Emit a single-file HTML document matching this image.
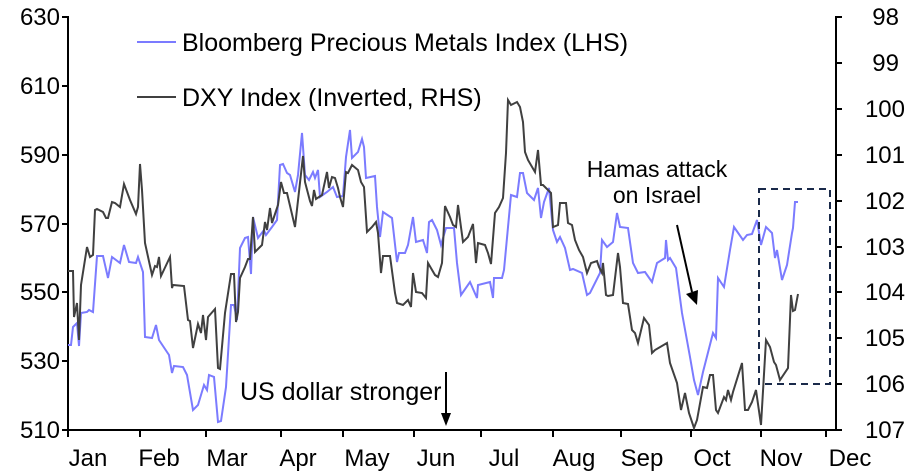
<!DOCTYPE html>
<html><head><style>
html,body{margin:0;padding:0;background:#fff;}
svg{display:block;font-family:"Liberation Sans",Arial,sans-serif;}
</style></head><body>
<svg width="912" height="473" viewBox="0 0 912 473" xmlns="http://www.w3.org/2000/svg">
<g stroke="#000" stroke-width="2" fill="none">
<line x1="68" y1="16" x2="68" y2="431"/>
<line x1="836" y1="16" x2="836" y2="431"/>
<line x1="67" y1="430" x2="837" y2="430"/>
<path d="M62 17H68M62 86H68M62 155H68M62 224H68M62 292H68M62 361H68M62 430H68"/>
<path d="M836 17H842M836 63H842M836 109H842M836 155H842M836 201H842M836 247H842M836 292H842M836 338H842M836 384H842M836 430H842"/>
<path d="M68 430V437M140 430V437M206 430V437M281 430V437M343 430V437M414 430V437M481 430V437M553 430V437M621 430V437M691 430V437M761 430V437M826 430V437"/>
</g>
<g font-size="24" fill="#000" text-anchor="end">
<text x="60" y="25">630</text><text x="60" y="94">610</text><text x="60" y="163">590</text><text x="60" y="232">570</text><text x="60" y="300">550</text><text x="60" y="369">530</text><text x="60" y="438">510</text>
</g>
<g font-size="24" fill="#000" text-anchor="end">
<text x="899" y="25">98</text><text x="899" y="71">99</text><text x="905" y="117">100</text><text x="905" y="163">101</text><text x="905" y="209">102</text><text x="905" y="255">103</text><text x="905" y="300">104</text><text x="905" y="346">105</text><text x="905" y="392">106</text><text x="905" y="438">107</text>
</g>
<g font-size="24" fill="#000" text-anchor="middle">
<text x="88" y="466">Jan</text><text x="159" y="466">Feb</text><text x="227" y="466">Mar</text><text x="298" y="466">Apr</text><text x="367" y="466">May</text><text x="436" y="466">Jun</text><text x="504" y="466">Jul</text><text x="574" y="466">Aug</text><text x="642" y="466">Sep</text><text x="712" y="466">Oct</text><text x="781" y="466">Nov</text><text x="850" y="466">Dec</text>
</g>
<polyline fill="none" stroke="#7b7bff" stroke-width="2" points="68,345 71,345 73,327 77,323 79,346 81,313 87,312 89,310 93,312 97,256 103,256 108,278 112,257 120,263 124,245 129,262 136,263 138,257 143,272 145,337 152,338 156,325 159,340 167,352 169,355 172,373 174,366 183,367 187,375 193,410 198,405 204,385 207,390 209,375 214,377 218,422 221,421 226,387 231,305 234,305 237,320 240,248 245,238 248,237 251,274 253,217 258,238 264,230 266,235 272,227 277,220 280,165 283,164 287,173 290,175 295,192 298,175 302,133 305,175 309,180 313,172 315,178 318,170 320,197 327,192 333,187 337,197 343,196 346,157 350,130 352,158 358,152 362,139 364,147 366,178 375,176 377,207 380,237 383,212 392,218 397,262 399,253 405,253 408,245 413,217 416,242 423,240 427,253 429,222 432,220 437,230 441,245 446,228 454,228 457,263 461,295 470,282 477,298 478,285 490,282 493,298 494,278 502,278 504,270 511,195 517,197 520,173 523,173 527,193 534,200 538,188 541,218 544,202 549,188 553,230 557,242 560,237 565,248 570,270 573,269 582,273 587,295 590,293 600,273 602,240 607,247 613,242 617,213 620,227 628,228 633,263 638,273 645,272 652,282 657,263 665,258 666,240 668,260 670,258 676,268 682,313 690,357 694,380 698,395 703,372 713,333 716,338 718,278 724,287 730,250 734,227 743,240 747,235 752,234 757,220 761,245 766,227 772,233 775,258 777,250 782,280 787,265 792,233 793,228 795,202 798,202"/>
<polyline fill="none" stroke="#404040" stroke-width="2" points="68,271 71,271 73,271 74,317 77,303 79,340 81,285 87,247 90,257 93,255 95,210 97,209 103,212 106,218 108,218 112,202 115,203 120,207 124,184 130,200 136,214 138,207 140,164 142,190 145,243 152,275 155,266 157,267 159,257 161,276 170,257 172,288 173,285 184,286 188,320 190,321 193,348 198,324 201,333 203,315 206,340 208,317 215,309 218,368 220,369 225,313 231,274 234,274 236,322 238,312 240,278 245,267 248,259 250,259 253,217 255,252 262,245 265,222 267,230 270,208 272,223 278,205 281,182 284,193 287,193 295,227 303,156 305,182 310,201 312,206 314,190 316,199 322,195 327,172 329,188 332,177 335,178 338,188 340,197 343,207 346,172 348,173 352,165 358,170 361,182 364,187 367,232 372,227 376,222 378,233 381,273 383,256 390,256 395,293 397,303 403,305 408,300 411,307 413,273 416,292 422,293 426,298 428,263 435,275 438,277 442,263 445,206 450,217 453,225 456,227 458,205 463,242 468,237 473,224 476,263 478,243 485,245 488,253 491,264 495,213 499,207 503,198 506,153 508,100 511,105 517,102 520,107 523,122 525,152 528,160 535,172 538,150 541,185 543,185 551,193 553,227 558,225 560,203 566,203 568,223 572,225 575,240 579,250 583,257 585,265 587,273 591,263 597,261 599,267 602,273 603,263 606,295 608,296 613,295 618,253 620,267 623,303 628,304 632,330 635,333 638,343 644,318 649,325 652,353 655,350 667,343 670,363 677,383 681,410 685,393 689,413 694,428 697,420 703,387 707,388 710,375 713,375 716,410 718,413 724,397 726,400 728,390 731,400 733,392 742,363 745,410 748,410 752,402 756,390 761,425 766,340 770,347 774,362 776,365 780,380 788,368 791,295 793,311 795,310 798,294"/>
<line x1="137" y1="42" x2="176" y2="42" stroke="#7b7bff" stroke-width="2"/>
<line x1="137" y1="97" x2="176" y2="97" stroke="#404040" stroke-width="2"/>
<g font-size="25" fill="#000">
<text x="182" y="51">Bloomberg Precious Metals Index (LHS)</text>
<text x="182" y="106">DXY Index (Inverted, RHS)</text>
<text x="240" y="400">US dollar stronger</text>
</g>
<g font-size="23" fill="#000" text-anchor="middle">
<text x="657" y="177">Hamas attack</text>
<text x="657" y="203">on Israel</text>
</g>
<line x1="677" y1="225" x2="692" y2="292" stroke="#000" stroke-width="2"/>
<polygon points="686,294 697,305 698,290" fill="#000"/>
<line x1="446" y1="372" x2="446" y2="414" stroke="#000" stroke-width="2"/>
<polygon points="441,413 451,413 446,426" fill="#000"/>
<rect x="759" y="189" width="71" height="195" fill="none" stroke="#1a2a4a" stroke-width="2" stroke-dasharray="7,5"/>
</svg>
</body></html>
